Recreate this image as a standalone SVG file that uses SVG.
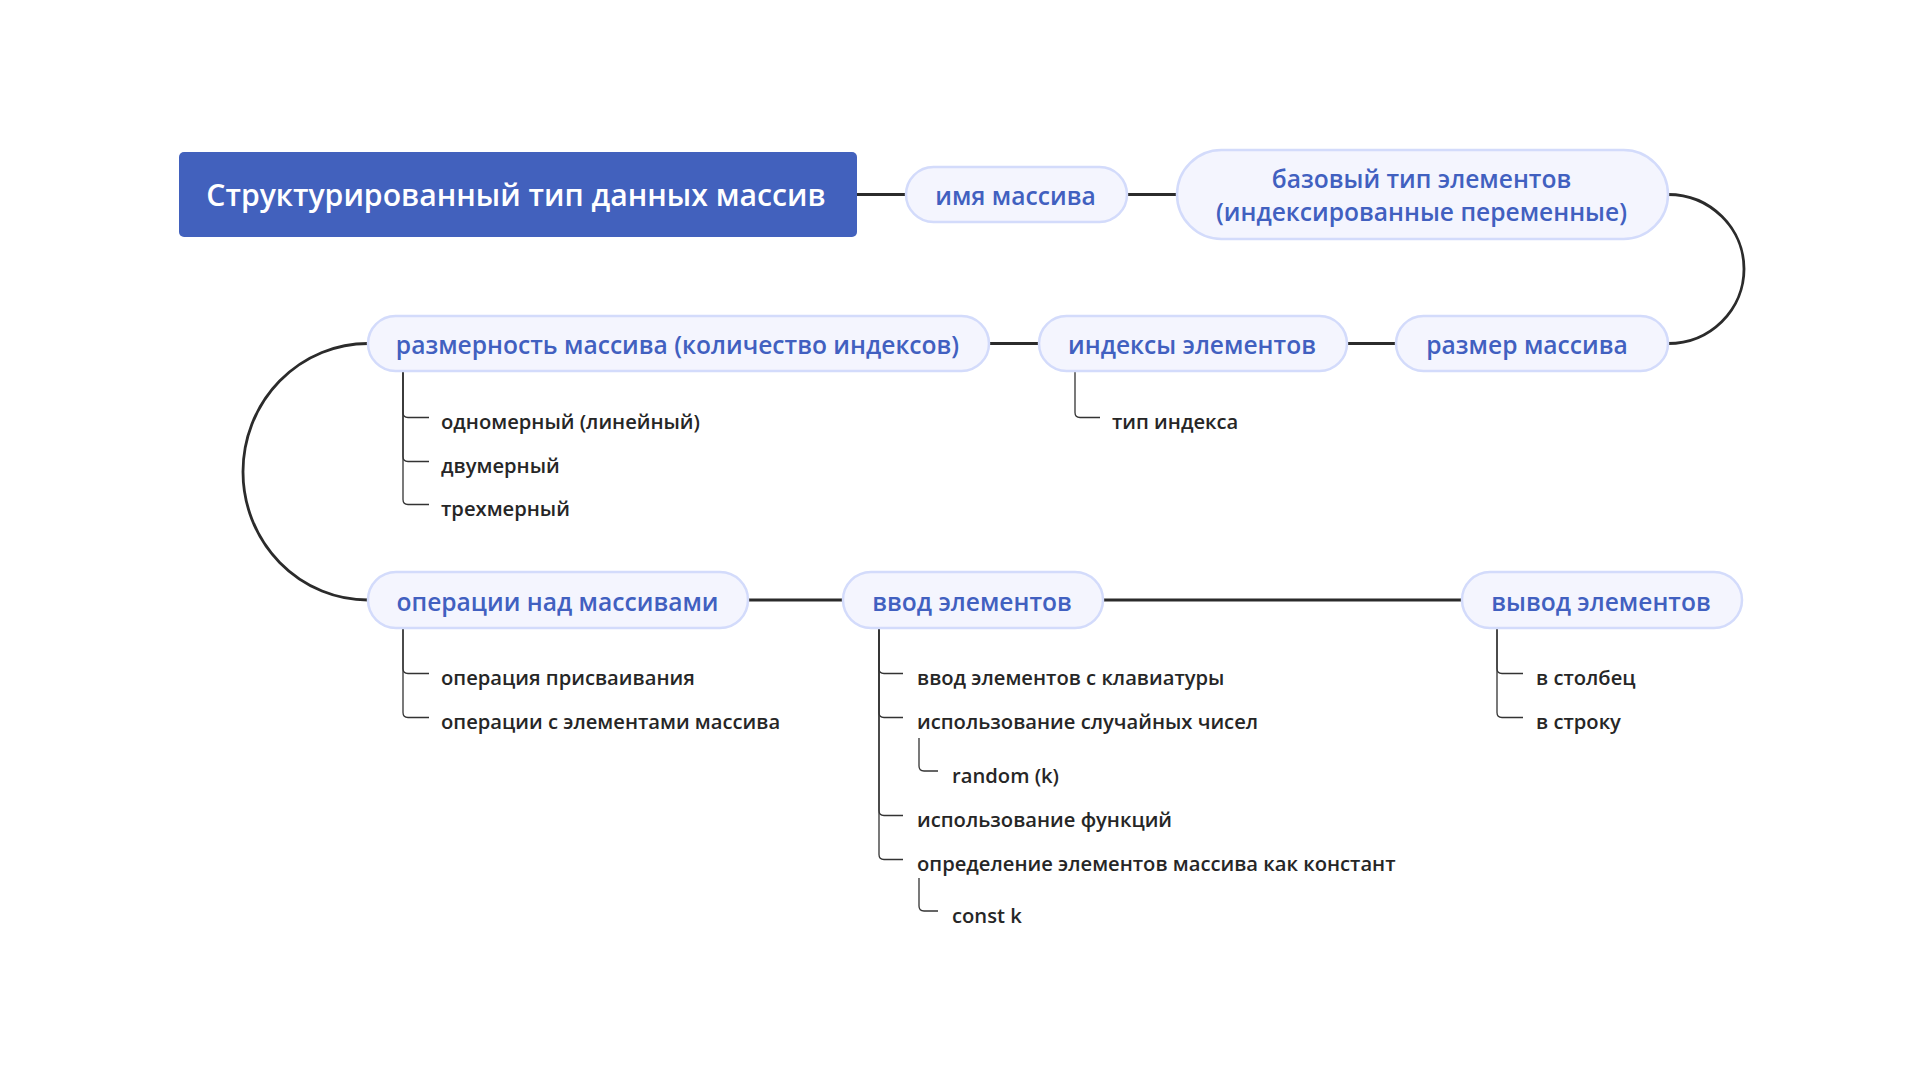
<svg xmlns="http://www.w3.org/2000/svg" width="1920" height="1080" viewBox="0 0 1920 1080">
<style>
.bg{fill:#ffffff}
.title-box{fill:#4261bd}
.title-text{font-family:"Open Sans","Noto Sans","Liberation Sans",sans-serif;font-weight:600;font-size:30.2px;fill:#ffffff}
.pill{fill:#f4f5fe;stroke:#d3dbfb;stroke-width:2.5}
.pill-text{font-family:"Open Sans","Noto Sans","Liberation Sans",sans-serif;font-weight:600;font-size:24.6px;fill:#4160c0;text-anchor:middle}
.leaf{font-family:"Open Sans","Noto Sans","Liberation Sans",sans-serif;font-weight:600;font-size:20.2px;fill:#262626}
.main{fill:none;stroke:#2b2b2b;stroke-width:2.8}
.sub{fill:none;stroke:#333333;stroke-width:1.3}
</style>
<rect class="bg" x="0" y="0" width="1920" height="1080"/>

<g id="connectors">
  <path class="main" d="M857,194.5 H906"/>
  <path class="main" d="M1127,194.5 H1177"/>
  <path class="main" d="M1668,194.5 A76 74.5 0 0 1 1668,343.5"/>
  <path class="main" d="M1396,343.5 H1347"/>
  <path class="main" d="M1039,343.5 H989"/>
  <path class="main" d="M368,343.5 A125 128.25 0 0 0 368,600"/>
  <path class="main" d="M748,600 H843"/>
  <path class="main" d="M1103,600 H1462"/>

  <path class="sub" d="M403,371 V412.5 Q403,417.5 408,417.5 H429"/>
  <path class="sub" d="M403,371 V456.5 Q403,461.5 408,461.5 H429"/>
  <path class="sub" d="M403,371 V499.5 Q403,504.5 408,504.5 H429"/>

  <path class="sub" d="M1075,371 V412.5 Q1075,417.5 1080,417.5 H1100"/>

  <path class="sub" d="M403,628 V668.5 Q403,673.5 408,673.5 H429"/>
  <path class="sub" d="M403,628 V712.5 Q403,717.5 408,717.5 H429"/>

  <path class="sub" d="M879,628 V668.5 Q879,673.5 884,673.5 H903"/>
  <path class="sub" d="M879,628 V712.5 Q879,717.5 884,717.5 H903"/>
  <path class="sub" d="M879,628 V810.5 Q879,815.5 884,815.5 H903"/>
  <path class="sub" d="M879,628 V854.5 Q879,859.5 884,859.5 H903"/>
  <path class="sub" d="M919,738 V766 Q919,771 924,771 H938"/>
  <path class="sub" d="M919,878 V906 Q919,911 924,911 H938"/>

  <path class="sub" d="M1497,628 V668.5 Q1497,673.5 1502,673.5 H1523"/>
  <path class="sub" d="M1497,628 V712.5 Q1497,717.5 1502,717.5 H1523"/>
</g>

<g id="node-title">
  <rect class="title-box" x="179" y="152" width="678" height="85" rx="5"/>
  <text class="title-text" x="516" y="206" text-anchor="middle">Структурированный тип данных массив</text>
</g>

<g id="node-name">
  <rect class="pill" x="906" y="167" width="221" height="55" rx="27.5"/>
  <text class="pill-text" x="1015.5" y="205">имя массива</text>
</g>

<g id="node-base">
  <rect class="pill" x="1177" y="150" width="491" height="89" rx="44.5"/>
  <text class="pill-text" x="1421.5" y="188">базовый тип элементов</text>
  <text class="pill-text" x="1421.5" y="221">(индексированные переменные)</text>
</g>

<g id="node-size">
  <rect class="pill" x="1396" y="316" width="272" height="55" rx="27.5"/>
  <text class="pill-text" x="1527" y="354">размер массива</text>
</g>

<g id="node-indexes">
  <rect class="pill" x="1039" y="316" width="308" height="55" rx="27.5"/>
  <text class="pill-text" x="1192" y="354">индексы элементов</text>
  <text class="leaf" x="1112" y="429">тип индекса</text>
</g>

<g id="node-dimension">
  <rect class="pill" x="368" y="316" width="621" height="55" rx="27.5"/>
  <text class="pill-text" x="677.5" y="354">размерность массива (количество индексов)</text>
  <text class="leaf" x="441" y="429">одномерный (линейный)</text>
  <text class="leaf" x="441" y="473">двумерный</text>
  <text class="leaf" x="441" y="516">трехмерный</text>
</g>

<g id="node-operations">
  <rect class="pill" x="368" y="572" width="380" height="56" rx="28"/>
  <text class="pill-text" x="557.5" y="610.5">операции над массивами</text>
  <text class="leaf" x="441" y="685">операция присваивания</text>
  <text class="leaf" x="441" y="729">операции с элементами массива</text>
</g>

<g id="node-input">
  <rect class="pill" x="843" y="572" width="260" height="56" rx="28"/>
  <text class="pill-text" x="972" y="610.5">ввод элементов</text>
  <text class="leaf" x="917" y="685">ввод элементов с клавиатуры</text>
  <text class="leaf" x="917" y="729">использование случайных чисел</text>
  <text class="leaf" x="952" y="783">random (k)</text>
  <text class="leaf" x="917" y="827">использование функций</text>
  <text class="leaf" x="917" y="871">определение элементов массива как констант</text>
  <text class="leaf" x="952" y="923">const k</text>
</g>

<g id="node-output">
  <rect class="pill" x="1462" y="572" width="280" height="56" rx="28"/>
  <text class="pill-text" x="1601" y="610.5">вывод элементов</text>
  <text class="leaf" x="1536" y="685">в столбец</text>
  <text class="leaf" x="1536" y="729">в строку</text>
</g>
</svg>
